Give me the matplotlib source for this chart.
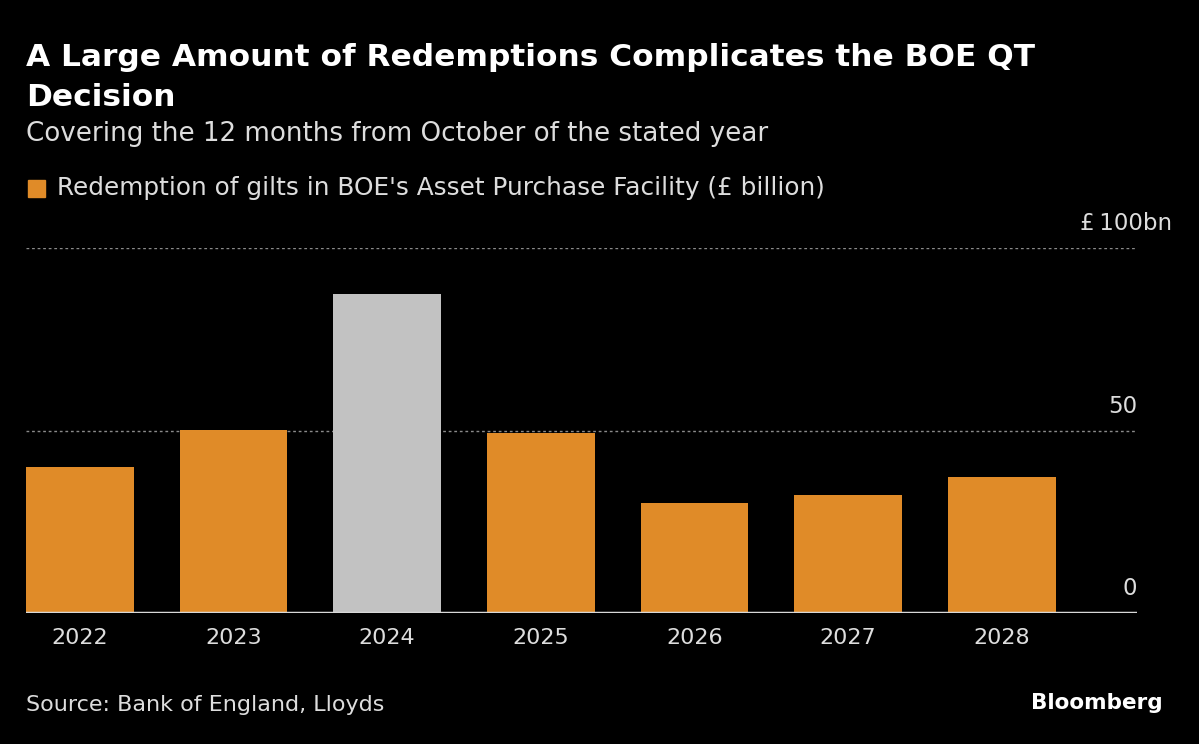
import matplotlib
matplotlib.use('Agg')
import matplotlib.pyplot as plt
from matplotlib.patches import Rectangle

years = ['2022', '2023', '2024', '2025', '2026', '2027', '2028']
redemptions = [40.0, 50.1, 87.4, 49.3, 30.1, 32.3, 37.3]
highlight = '2024'
y_ticks = [0, 50, 100]
y_labels = ['0', '50', '£\u2009100bn']

orange = '#e08b28'
grey = '#c2c2c2'
bg = '#000000'
txt = '#dddddd'

fig = plt.figure(figsize=(11.99, 7.44), dpi=100, facecolor=bg)
ax = fig.add_axes([26 / 1199, (744 - 613) / 744, (1137 - 26) / 1199, (613 - 248) / 744])
ax.set_facecolor(bg)

x = list(range(len(years)))
colors = [grey if y == highlight else orange for y in years]
ax.bar(x, redemptions, width=0.7, color=colors, zorder=2)

ax.set_xlim(-0.35, 6.88)
ax.set_ylim(0, 100)

# dotted gridlines (not at zero)
for t in y_ticks[1:]:
    ax.axhline(t, xmin=0, xmax=(1135 - 26) / (1137 - 26), color='#8a8a8a',
               linestyle=(0, (2, 2)), linewidth=1, zorder=1)
ax.axhline(0, color='#d8d8d8', linewidth=2.5, zorder=3)

# numbers right-aligned at the axis end, the unit of the top label hangs past it
for t, lab in zip(y_ticks, y_labels):
    xr = 1.0 if lab.endswith('bn') is False else 1.0 + 35 / 1111
    ax.text(xr, t + 3.5, lab, transform=ax.get_yaxis_transform(), ha='right', va='bottom',
            color=txt, fontsize=16.5, clip_on=False)

ax.set_xticks(x)
ax.set_xticklabels(years, color=txt, fontsize=16)
ax.tick_params(axis='x', length=0, pad=11)
ax.set_yticks([])
for s in ax.spines.values():
    s.set_visible(False)

fig.text(26 / 1199, 1 - 58 / 744, 'A Large Amount of Redemptions Complicates the BOE QT',
         color='white', fontsize=22.5, fontweight='bold', ha='left', va='center')
fig.text(26 / 1199, 1 - 97 / 744, 'Decision',
         color='white', fontsize=22.5, fontweight='bold', ha='left', va='center')
fig.text(26 / 1199, 1 - 134 / 744, 'Covering the 12 months from October of the stated year',
         color=txt, fontsize=18.8, ha='left', va='center')

fig.patches.append(Rectangle((28 / 1199, 1 - 197 / 744), 17 / 1199, 17 / 744,
                             transform=fig.transFigure, color=orange, figure=fig))
fig.text(57 / 1199, 1 - 188 / 744, "Redemption of gilts in BOE's Asset Purchase Facility (£ billion)",
         color=txt, fontsize=17.8, ha='left', va='center')

fig.text(26 / 1199, 1 - 705 / 744, 'Source: Bank of England, Lloyds',
         color=txt, fontsize=16, ha='left', va='center')
fig.text(1163 / 1199, 1 - 703 / 744, 'Bloomberg', color='white', fontsize=15.5,
         fontweight='bold', ha='right', va='center')

fig.savefig('out.png', dpi=100, facecolor=bg)
